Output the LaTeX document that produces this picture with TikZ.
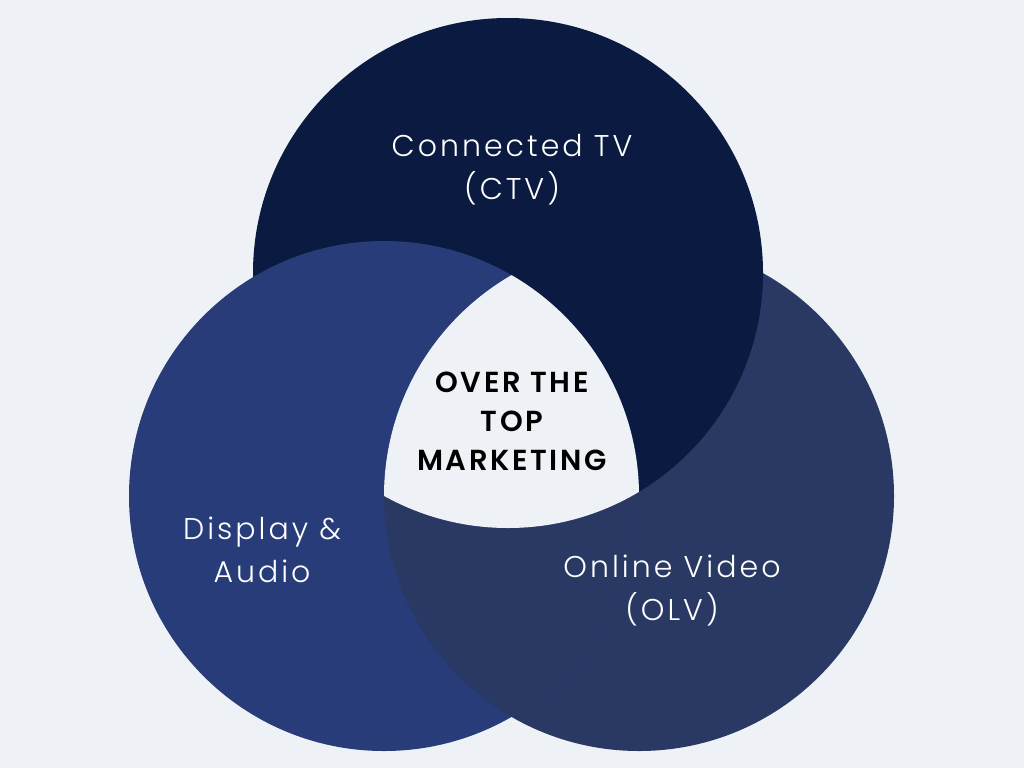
\documentclass[tikz,border=0pt]{standalone}
\usepackage{fontspec}
\setmainfont{Poppins}
\newfontfamily\poplight{Poppins Light}[LetterSpace=10]
\newfontfamily\popsemi{Poppins SemiBold}[LetterSpace=9]
\definecolor{bgcol}{HTML}{EEF2F6}
\definecolor{ctvcol}{HTML}{0A1A40}
\definecolor{dnacol}{HTML}{273C78}
\definecolor{olvcol}{HTML}{2A3964}

\begin{document}
\begin{tikzpicture}[x=1pt,y=-1pt,
    label/.style={
      text=white,
      align=center,
      font=\poplight\fontsize{30}{43}\selectfont
    },
    core/.style={
      text=black,
      align=center,
      font=\popsemi\fontsize{29}{39}\selectfont
    }]
  \fill[bgcol] (0,0) rectangle (1024,768);
  \useasboundingbox (0,0) rectangle (1024,768);
  \coordinate (ctv) at (508,273);
  \coordinate (dna) at (384,496);
  \coordinate (olv) at (639,496);
  % each circle lies over the next one, round the ring
  \fill[olvcol] (olv) circle[radius=255];
  \fill[ctvcol] (ctv) circle[radius=255];
  \fill[dnacol] (dna) circle[radius=255];
  \begin{scope}
    \clip (dna) circle[radius=255];
    \fill[olvcol] (olv) circle[radius=255];
  \end{scope}
  \begin{scope}
    \clip (ctv) circle[radius=255];
    \clip (dna) circle[radius=255];
    \fill[bgcol] (olv) circle[radius=255];
  \end{scope}
  \node[label] (ctvtext) at (512,170) {Connected TV\\(CTV)};
  \node[label] (dnatext) at (262,550) {Display \&\\Audio};
  \node[label] (olvtext) at (672,591) {Online Video\\(OLV)};
  \node[core] (ott) at (512,421) {OVER THE\\TOP\\MARKETING};
\end{tikzpicture}
\end{document}
